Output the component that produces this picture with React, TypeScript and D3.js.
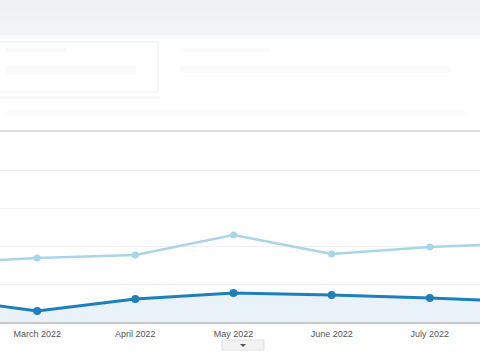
import React, { useEffect } from 'react';
import * as d3 from 'd3';

// months shown (first and last sit just outside the plot)
const months = ['February 2022', 'March 2022', 'April 2022', 'May 2022', 'June 2022', 'July 2022', 'August 2022'];
const labelledMonths = ['March 2022', 'April 2022', 'May 2022', 'June 2022', 'July 2022'];
const lightSeries = [30.8, 33.7, 35.3, 45.8, 35.8, 39.5, 41.5];
const darkSeries = [12.6, 5.8, 12.1, 15.3, 14.2, 12.6, 10.6];
const gridTicks = [0, 20, 40, 60, 80, 100];

const W = 480;
const H = 360;

const App = () => {
  useEffect(() => {
    document.body.style.margin = '0';
  }, []);

  const x = d3.scalePoint<string>().domain(months).range([-61, 528]);
  const y = d3.scaleLinear().domain([0, 100]).range([322, 132]);

  const pts = (vals: number[]) => vals.map((v, i) => [x(months[i]) as number, y(v)] as [number, number]);

  const line = d3.line();
  const area = d3.area<[number, number]>()
    .x(d => d[0])
    .y0(y(0))
    .y1(d => d[1]);

  const light = pts(lightSeries);
  const dark = pts(darkSeries);

  return (
    <svg width={W} height={H} style={{ display: 'block', fontFamily: 'Arial, "Liberation Sans", sans-serif' }}>
      <defs>
        <linearGradient id="topband" x1="0" y1="0" x2="0" y2="1">
          <stop offset="0" stopColor="#edf1f4" />
          <stop offset="1" stopColor="#f2f5f7" />
        </linearGradient>
        <clipPath id="plot">
          <rect x={0} y={0} width={W} height={H} />
        </clipPath>
      </defs>
      <rect width={W} height={H} fill="#fff" />

      {/* header strip */}
      <rect x={0} y={0} width={W} height={35} fill="url(#topband)" />
      <rect x={0} y={35} width={W} height={3} fill="#f7f9fa" />

      {/* washed-out summary box */}
      <rect x={-1} y={42} width={159} height={50} fill="#fff" stroke="#ededed" />
      <rect x={6} y={48} width={60} height={4} fill="#f9f9f9" />
      <rect x={6} y={66} width={130} height={9} fill="#fafafa" />
      <rect x={180} y={48} width={90} height={4} fill="#fafafa" />
      <rect x={180} y={66} width={270} height={7} fill="#fbfbfb" />
      <rect x={0} y={96} width={160} height={3} fill="#f8f8f8" />
      <rect x={6} y={110} width={460} height={6} fill="#fcfcfc" />

      {/* top rule */}
      <rect x={0} y={130} width={W} height={2} fill="#dcdcdc" />

      {/* gridlines */}
      {gridTicks.slice(1, -1).map(t => (
        <line key={t} x1={0} x2={W} y1={Math.round(y(t)) + 0.5} y2={Math.round(y(t)) + 0.5} stroke="#efefef" />
      ))}

      <g clipPath="url(#plot)">
        <path d={area(dark) ?? ''} fill="#e9f2f9" />
        <path d={line(light) ?? ''} fill="none" stroke="#a9d5ea" strokeWidth={2.5} />
        {light.map((p, i) => (
          <circle key={'l' + i} cx={p[0]} cy={p[1]} r={3.5} fill="#a9d5ea" />
        ))}
        <path d={line(dark) ?? ''} fill="none" stroke="#1f7fba" strokeWidth={3} />
        {dark.map((p, i) => (
          <circle key={'d' + i} cx={p[0]} cy={p[1]} r={4} fill="#1f7fba" />
        ))}
      </g>

      {/* x axis */}
      <rect x={0} y={322} width={W} height={2} fill="#c9c9c9" />
      {labelledMonths.map(m => (
        <text key={m} x={x(m)} y={337} textAnchor="middle" fontSize={9} fill="#555">
          {m}
        </text>
      ))}

      {/* slider tab */}
      <rect x={222} y={340} width={42} height={10} fill="#f2f2f2" stroke="#e2e2e2" />
      <path d="M240,344 L246,344 L243,347 Z" fill="#555" />
    </svg>
  );
};

export default App;
